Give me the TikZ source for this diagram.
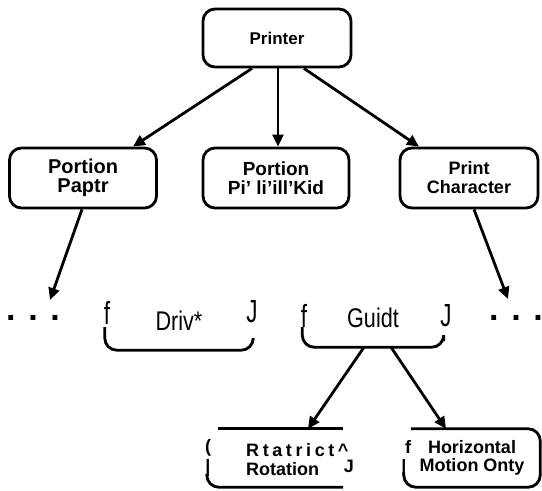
\documentclass[tikz,border=0pt]{standalone}
\usepackage{fontspec}
\setmainfont{Liberation Sans}
\newfontfamily\narrowfont[FakeStretch=0.8]{Liberation Sans}
\newfontfamily\tallfont[FakeStretch=0.7]{Liberation Sans}
\newfontfamily\spacedfont[LetterSpace=20]{Liberation Sans}
\usetikzlibrary{positioning, arrows.meta, calc}

\begin{document}
\begin{tikzpicture}[x=1pt, y=-1pt,
    box/.style={draw, rounded corners=12pt, line width=2.8pt, minimum width=146pt, minimum height=60pt,
                align=center, inner sep=0pt, font=\fontsize{19}{19}\selectfont\bfseries},
    frame/.style={minimum width=140pt, minimum height=58pt, inner sep=0pt, align=center},
    edge/.style={line width=2.8pt, rounded corners=12pt},
    arr/.style={line width=2.8pt, -{Triangle[length=12pt, width=11pt]}},
    side/.style={inner sep=0pt, font=\tallfont\fontsize{32}{32}\selectfont},
    bside/.style={inner sep=0pt, font=\fontsize{18}{19}\selectfont\bfseries},
    more/.style={inner sep=0pt, font=\fontsize{34}{34}\selectfont\bfseries}]
    \useasboundingbox (0,0) rectangle (542,491);

    % top level
    \node[box, minimum width=148pt, minimum height=58pt, font=\fontsize{17}{17}\selectfont\bfseries] (printer) at (277,38) {Printer};
    \node[box, minimum width=147pt, font=\fontsize{20}{19}\selectfont\bfseries] (paper) at (83,178) {Portion\\Paptr};
    \node[box] (pkid) at (276,178) {Portion\\Pi' li'ill'Kid};
    \node[box, minimum width=138pt, font=\fontsize{18}{19}\selectfont\bfseries] (charac) at (469,178) {Print\\Character};

    \draw[arr] ([xshift=-25pt]printer.south) -- ([xshift=50pt]paper.north);
    \draw[arr] ([xshift=1pt]printer.south) -- ([xshift=2pt]pkid.north);
    \draw[arr] ([xshift=27pt]printer.south) -- ([xshift=-50pt]charac.north);

    % second level
    \node[more] (ldots) at (33,318) {. . .};
    \node[more] (rdots) at (516,318) {. . .};
    \coordinate (lend) at (50,300);
    \coordinate (rend) at (508,299);
    \draw[arr] ([xshift=-1pt]paper.south) -- (lend);
    \draw[arr] ([xshift=5pt]charac.south) -- (rend);

    \node[frame, minimum width=148pt, font=\narrowfont\fontsize{27}{27}\selectfont] (drive) at (179,321) {Driv*};
    \node[frame, minimum width=141pt, font=\narrowfont\fontsize{27}{27}\selectfont] (guide) at (373,318) {Guidt};
    \node[side] (fdrive) at (107,313) {f};
    \node[side] (jdrive) at (252,312) {J};
    \node[side] (fguide) at (304,316) {f};
    \node[side] (jguide) at (446,316) {J};
    \draw[edge] ([yshift=-6pt]drive.west) -- (drive.south west) -- (drive.south east) -- ([yshift=10pt]drive.south east);
    \draw[edge] ([yshift=-9pt]guide.west) -- (guide.south west) -- (guide.south east) -- ([yshift=6pt]guide.south east);

    % third level
    \node[frame, minimum width=136pt] (rot) at (275,458) {};
    \node[frame, minimum width=136pt, font=\fontsize{18}{18.5}\selectfont\bfseries] (horiz) at (472,458) {Horizontal\\Motion Onty};
    \node[bside, anchor=west, align=left] (rottext) at (246,460) {{\spacedfont Rtatrict\^{}}\\Rotation};
    \node[bside] (prot) at (208,448) {(};
    \node[bside] (brot) at (208,468) {|};
    \node[bside] (jrot) at (349,466) {J};
    \node[bside] (fhoriz) at (408,447) {f};
    \node[bside] (bhoriz) at (404,468) {|};
    \draw[edge] ([xshift=11pt]rot.north west) -- (rot.north east);
    \draw[edge] ([yshift=-16pt]rot.west) -- (rot.south west) -- (rot.south east);
    \draw[edge] ([xshift=7pt]horiz.north west) -- (horiz.north east) -- (horiz.south east) -- (horiz.south west) -- ([yshift=-14pt]horiz.west);

    \draw[arr] ([xshift=-9pt]guide.south) -- ([xshift=33pt]rot.north);
    \draw[arr] ([xshift=18pt]guide.south) -- ([xshift=-26pt]horiz.north);
\end{tikzpicture}
\end{document}
